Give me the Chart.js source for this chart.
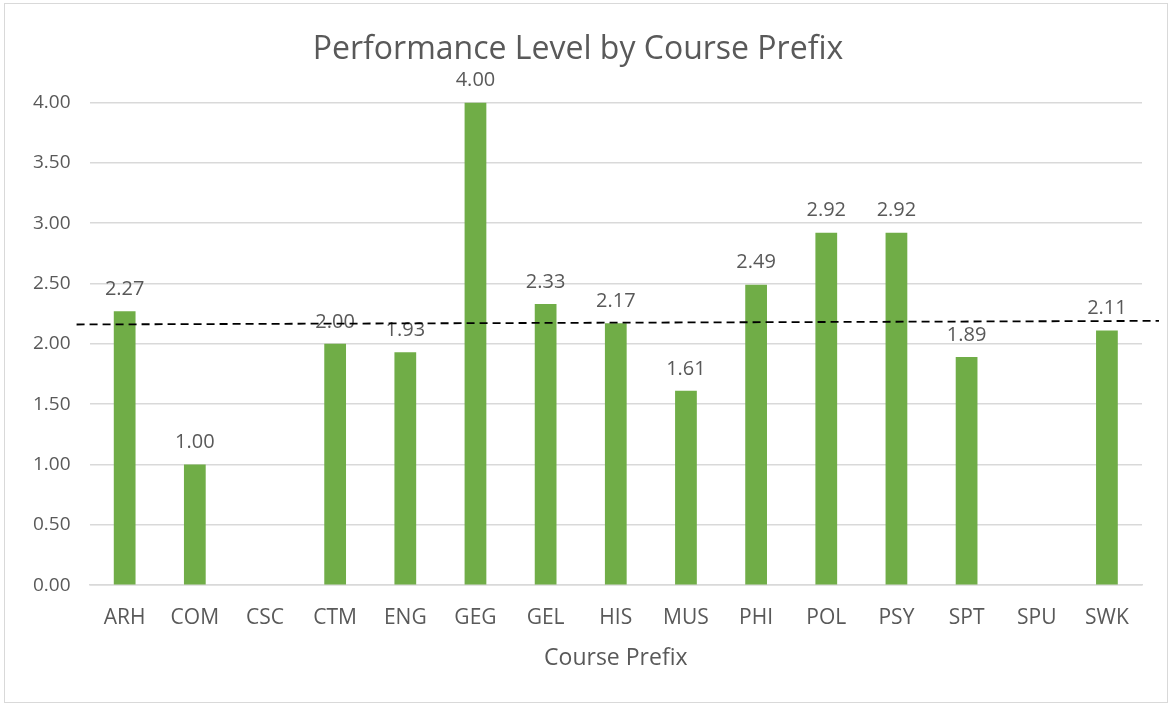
<!DOCTYPE html>
<html lang="en">
<head>
  <meta charset="UTF-8">
  <title>Performance Level by Course Prefix</title>
  <script src="https://cdn.jsdelivr.net/npm/chart.js@4.4.1/dist/chart.umd.min.js"></script>
  <style>
    body { margin: 0; background: #fff; }
    #box { position: absolute; left: 4px; top: 3px; width: 1162px; height: 698px; border: 1px solid #d9d9d9; }
  </style>
</head>
<body>
  <div id="box"><canvas id="chart"></canvas></div>
  <script>
    const prefixes = ['ARH', 'COM', 'CSC', 'CTM', 'ENG', 'GEG', 'GEL', 'HIS', 'MUS', 'PHI', 'POL', 'PSY', 'SPT', 'SPU', 'SWK'];
    const levels = [2.27, 1.00, null, 2.00, 1.93, 4.00, 2.33, 2.17, 1.61, 2.49, 2.92, 2.92, 1.89, null, 2.11];
    const yTicks = [0, 0.5, 1, 1.5, 2, 2.5, 3, 3.5, 4];
    // trendline end values (left, right)
    const trend = [2.16, 2.19];

    const fontFamily = "'Open Sans', sans-serif";
    const textColor = '#595959';

    // value labels above bars
    const valueLabels = {
      id: 'valueLabels',
      afterDatasetsDraw(chart) {
        const ctx = chart.ctx;
        const meta = chart.getDatasetMeta(0);
        ctx.save();
        ctx.font = '20px ' + fontFamily;
        ctx.fillStyle = textColor;
        ctx.textAlign = 'center';
        ctx.textBaseline = 'bottom';
        meta.data.forEach((bar, i) => {
          if (levels[i] == null) return;
          ctx.fillText(levels[i].toFixed(2), bar.x, bar.y - 12);
        });
        ctx.restore();
      }
    };

    // dashed trendline
    const trendLine = {
      id: 'trendLine',
      afterDraw(chart) {
        const { ctx, chartArea, scales } = chart;
        ctx.save();
        ctx.strokeStyle = '#000';
        ctx.lineWidth = 1.8;
        ctx.setLineDash([8, 5]);
        ctx.beginPath();
        ctx.moveTo(chartArea.left - 13, scales.y.getPixelForValue(trend[0]));
        ctx.lineTo(chartArea.right + 17, scales.y.getPixelForValue(trend[1]));
        ctx.stroke();
        ctx.restore();
      }
    };

    new Chart(document.getElementById('chart'), {
      type: 'bar',
      data: {
        labels: prefixes,
        datasets: [{
          data: levels,
          backgroundColor: '#70ad47',
          barPercentage: 0.62,
          categoryPercentage: 0.5
        }]
      },
      options: {
        responsive: true,
        maintainAspectRatio: false,
        animation: false,
        layout: { padding: { top: 27, left: 9, right: 25, bottom: 26 } },
        plugins: {
          legend: { display: false },
          tooltip: { enabled: false },
          title: {
            display: true,
            text: 'Performance Level by Course Prefix',
            color: textColor,
            font: { family: fontFamily, size: 32, weight: 'normal' },
            padding: { top: 0, bottom: 33 }
          }
        },
        scales: {
          x: {
            grid: { display: false },
            border: { color: '#d9d9d9', width: 1.5 },
            ticks: { color: textColor, font: { family: fontFamily, size: 21 }, padding: 12 },
            title: {
              display: true,
              text: 'Course Prefix',
              color: textColor,
              font: { family: fontFamily, size: 23 },
              padding: { top: 2 }
            }
          },
          y: {
            min: 0,
            max: 4,
            afterBuildTicks(axis) { axis.ticks = yTicks.map(v => ({ value: v })); },
            grid: { color: '#d9d9d9', lineWidth: 1.5, drawTicks: false },
            border: { display: false },
            ticks: {
              color: textColor,
              font: { family: fontFamily, size: 19 },
              padding: 19,
              callback: v => v.toFixed(2)
            }
          }
        }
      },
      plugins: [valueLabels, trendLine]
    });
  </script>
</body>
</html>
